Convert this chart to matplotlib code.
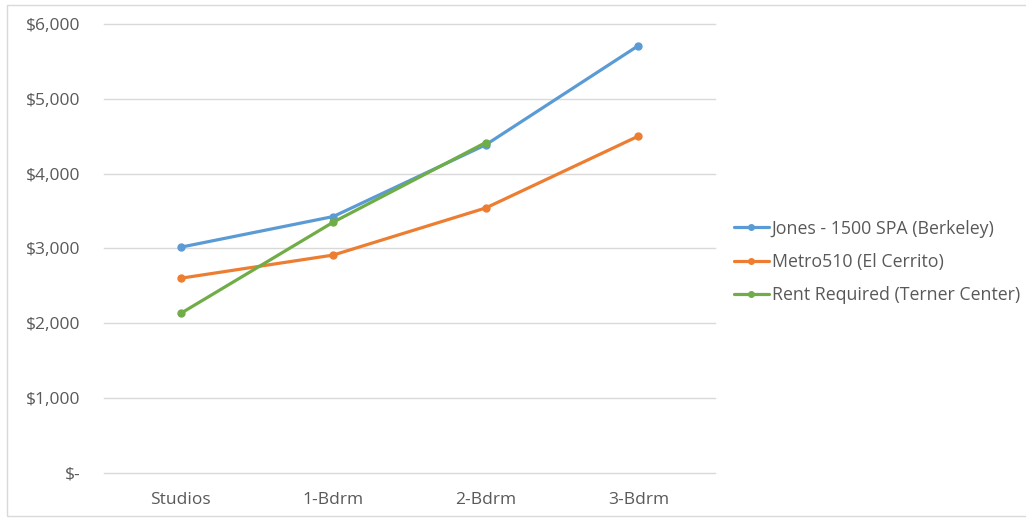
import matplotlib
matplotlib.use("Agg")
import matplotlib.pyplot as plt
from matplotlib.ticker import FuncFormatter
from matplotlib.patches import Rectangle

categories = ["Studios", "1-Bdrm", "2-Bdrm", "3-Bdrm"]
jones = [3015, 3425, 4385, 5710]
metro = [2600, 2910, 3540, 4500]
rent_required = [2130, 3350, 4415]

series_names = ["Jones - 1500 SPA (Berkeley)", "Metro510 (El Cerrito)", "Rent Required (Terner Center)"]
colors = ["#5B9BD5", "#ED7D31", "#70AD47"]

plt.rcParams["font.family"] = ["Open Sans", "DejaVu Sans"]
text_color = "#595959"

fig = plt.figure(figsize=(10.26, 5.18), dpi=100)
ax = fig.add_axes([0.1018, 0.0875, 0.5947, 0.8662])

# light frame around the whole chart
fig.patches.append(Rectangle((0.007, 0.004), 0.995, 0.987, transform=fig.transFigure,
                             fill=False, edgecolor="#D9D9D9", linewidth=1.0))

x = list(range(len(categories)))
for vals, name, c in zip([jones, metro, rent_required], series_names, colors):
    ax.plot(x[:len(vals)], vals, color=c, linewidth=2.3, marker="o", markersize=5,
            label=name, solid_capstyle="round", zorder=3)

ax.set_xlim(-0.5, len(categories) - 0.5)
ax.set_ylim(0, 6000)
ax.set_yticks(range(0, 6001, 1000))
ax.yaxis.set_major_formatter(FuncFormatter(lambda v, p: "$-" if v == 0 else f"${v:,.0f}"))
ax.set_xticks(x)
ax.set_xticklabels(categories)

ax.grid(axis="y", color="#D9D9D9", linewidth=1.0)
for gl in ax.get_ygridlines():
    gl.set_clip_on(False)
ax.set_axisbelow(True)
for side in ["top", "right", "left", "bottom"]:
    ax.spines[side].set_visible(False)
ax.tick_params(axis="both", length=0, colors=text_color)
ax.tick_params(axis="y", pad=17, labelsize=12.5)
ax.tick_params(axis="x", pad=14, labelsize=12.5)

leg = ax.legend(loc="center left", bbox_to_anchor=(1.005, 0.47), frameon=False,
                fontsize=12.8, handlelength=2.0, handletextpad=0.15, labelspacing=0.85,
                markerscale=0.8)
for t in leg.get_texts():
    t.set_color(text_color)

fig.savefig("out.png", dpi=100)
